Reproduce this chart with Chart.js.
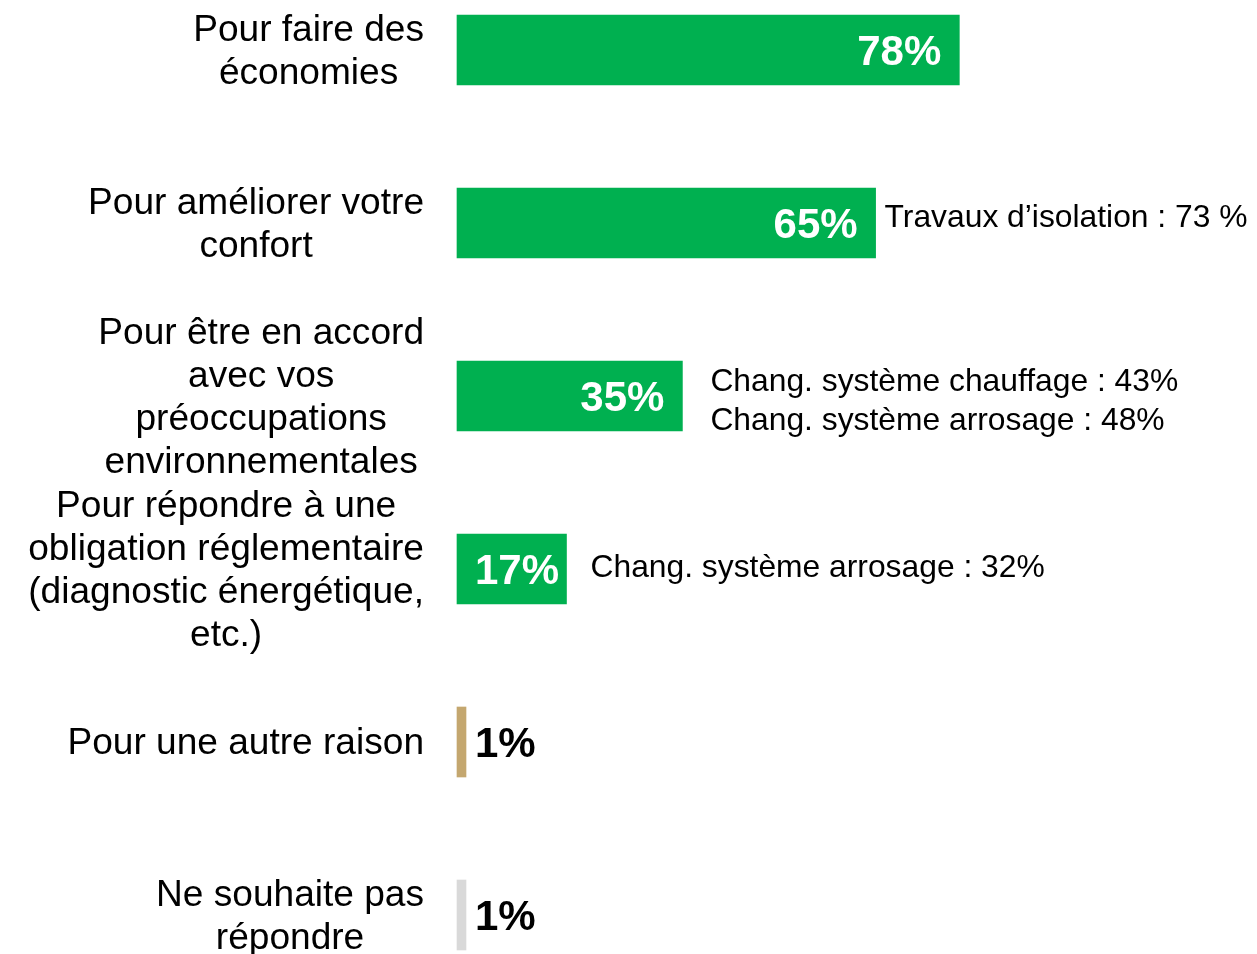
<!DOCTYPE html>
<html>
<head>
<meta charset="utf-8">
<script src="https://cdn.jsdelivr.net/npm/chart.js@4/dist/chart.umd.min.js"></script>
<style>
  html, body { margin: 0; padding: 0; background: #ffffff; }
  #wrap { width: 1257px; height: 954px; position: relative; }
</style>
</head>
<body>
<div id="wrap"><canvas id="c" width="1257" height="954"></canvas></div>
<script>
// ---- Data ----
const categories = [
  ["Pour faire des", "économies"],
  ["Pour améliorer votre", "confort"],
  ["Pour être en accord", "avec vos", "préoccupations", "environnementales"],
  ["Pour répondre à une", "obligation réglementaire", "(diagnostic énergétique,", "etc.)"],
  ["Pour une autre raison"],
  ["Ne souhaite pas", "répondre"]
];
const values = [78, 65, 35, 17, 1, 1];
const notes = [
  [],
  ["Travaux d’isolation : 73 %"],
  ["Chang. système chauffage : 43%", "Chang. système arrosage : 48%"],
  ["Chang. système arrosage : 32%"],
  [],
  []
];

// ---- Styles ----
const FONT = '"Liberation Sans", Arial, Helvetica, sans-serif';
const barColors = ['#00B050', '#00B050', '#00B050', '#00B050', '#C4A76F', '#D9D9D9'];
const valueLabelColors = ['#FFFFFF', '#FFFFFF', '#FFFFFF', '#FFFFFF', '#000000', '#000000'];
const noteOffsets = [null, {dx: 9, dy: -5}, {dx: 28, dy: 6}, {dx: 24, dy: -1}, null, null];

const categoryLabelsPlugin = {
  id: 'categoryLabels',
  afterDraw(chart) {
    const ctx = chart.ctx;
    const yScale = chart.scales.y;
    const rightEdge = 424;
    const lineH = 43;
    ctx.save();
    ctx.font = '37.1px ' + FONT;
    ctx.fillStyle = '#000000';
    ctx.textAlign = 'center';
    ctx.textBaseline = 'middle';
    chart.data.labels.forEach((lines, i) => {
      const y = yScale.getPixelForValue(i) + 2;
      const maxW = Math.max(...lines.map(l => ctx.measureText(l).width));
      const cx = rightEdge - maxW / 2;
      const n = lines.length;
      lines.forEach((l, j) => {
        ctx.fillText(l, cx, y + (j - (n - 1) / 2) * lineH);
      });
    });
    ctx.restore();
  }
};

const valueLabelsPlugin = {
  id: 'valueLabels',
  afterDatasetsDraw(chart) {
    const ctx = chart.ctx;
    const meta = chart.getDatasetMeta(0);
    ctx.save();
    ctx.font = 'bold 42px ' + FONT;
    ctx.textAlign = 'left';
    ctx.textBaseline = 'middle';
    meta.data.forEach((bar, i) => {
      const txt = chart.data.datasets[0].data[i] + '%';
      const w = ctx.measureText(txt).width;
      const x = Math.max(bar.base + 18, bar.x - 18 - w);
      ctx.fillStyle = valueLabelColors[i];
      ctx.fillText(txt, x, bar.y + 3);
    });
    ctx.restore();
  }
};

const notesPlugin = {
  id: 'notes',
  afterDatasetsDraw(chart) {
    const ctx = chart.ctx;
    const meta = chart.getDatasetMeta(0);
    ctx.save();
    ctx.font = '31.8px ' + FONT;
    ctx.fillStyle = '#000000';
    ctx.textAlign = 'left';
    ctx.textBaseline = 'middle';
    const lineH = 39;
    meta.data.forEach((bar, i) => {
      const lines = notes[i];
      const off = noteOffsets[i];
      if (!lines.length || !off) return;
      const n = lines.length;
      lines.forEach((l, j) => {
        ctx.fillText(l, bar.x + off.dx, bar.y + off.dy + (j - (n - 1) / 2) * lineH);
      });
    });
    ctx.restore();
  }
};

new Chart(document.getElementById('c'), {
  type: 'bar',
  data: {
    labels: categories,
    datasets: [{
      data: values,
      backgroundColor: barColors,
      borderWidth: 0,
      barThickness: 70,
      minBarLength: 9,
      clip: false
    }]
  },
  options: {
    indexAxis: 'y',
    responsive: false,
    animation: false,
    events: [],
    layout: { padding: { left: 457, right: 156, top: 50, bottom: 39 } },
    plugins: { legend: { display: false }, tooltip: { enabled: false }, title: { display: false } },
    scales: {
      x: { type: 'linear', min: 0, max: 100, display: false, grid: { display: false } },
      y: { type: 'category', offset: false, display: false, grid: { display: false } }
    }
  },
  plugins: [categoryLabelsPlugin, valueLabelsPlugin, notesPlugin]
});
</script>
</body>
</html>
